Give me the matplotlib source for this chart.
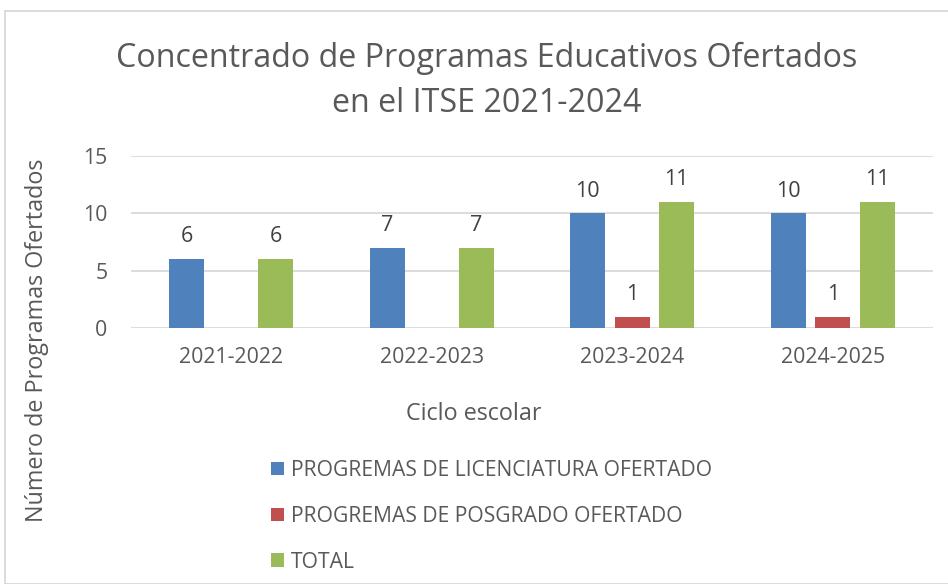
import numpy as np
import matplotlib
matplotlib.use("Agg")
import matplotlib.pyplot as plt
from matplotlib.patches import Rectangle, Patch

categories = ["2021-2022", "2022-2023", "2023-2024", "2024-2025"]
licenciatura = [6, 7, 10, 10]
posgrado = [np.nan, np.nan, 1, 1]
total = [6, 7, 11, 11]
series_names = ["PROGREMAS DE LICENCIATURA OFERTADO",
                "PROGREMAS DE POSGRADO OFERTADO",
                "TOTAL"]
colors = ["#4F81BD", "#C0504D", "#9BBB59"]
yticks = [0, 5, 10, 15]

plt.rcParams['font.family'] = ['Open Sans', 'DejaVu Sans']
txt = "#595959"

W, H = 948, 584
fig = plt.figure(figsize=(W/100, H/100), dpi=100)
fig.patches.append(Rectangle((5/W, 0), 1.2, 1 - 11/H, transform=fig.transFigure,
                             fill=False, edgecolor="#D9D9D9", linewidth=1.3))

ax = fig.add_axes([131/W, 1 - 328/H, (933-131)/W, (328-156)/H])
x = np.arange(len(categories))
bw = 0.175
off = 0.222
for i, (vals, c) in enumerate(zip([licenciatura, posgrado, total], colors)):
    xs = x + (i - 1) * off
    ax.bar(xs, vals, width=bw, color=c, zorder=3, label=series_names[i])
    for xi, v in zip(xs, vals):
        if not np.isnan(v):
            ax.annotate(f"{int(v)}", (xi, v), xytext=(0, 16), textcoords="offset points",
                        ha="center", va="center", fontsize=15.5, color="#404040")

ax.set_xlim(-0.5, len(categories) - 0.5)
ax.set_ylim(0, 15)
ax.set_yticks(yticks)
ax.set_xticks(x)
ax.set_xticklabels(categories)
ax.tick_params(axis="both", length=0, labelsize=15.3, labelcolor=txt)
ax.tick_params(axis="x", pad=14)
ax.tick_params(axis="y", pad=17)
ax.grid(axis="y", color="#D9D9D9", linewidth=1.3, zorder=0)
for s in ax.spines.values():
    s.set_visible(False)

fig.text(487/W, 1 - 81/H, "Concentrado de Programas Educativos Ofertados\nen el ITSE 2021-2024",
         ha="center", va="center", fontsize=23.2, color=txt, linespacing=1.47)
fig.text(474/W, 1 - 414/H, "Ciclo escolar", ha="center", va="center", fontsize=16.8, color=txt)
fig.text(37/W, 1 - 340/H, "Número de Programas Ofertados", ha="center", va="center",
         rotation=90, fontsize=16.8, color=txt)

handles = [Patch(facecolor=c) for c in colors]
fig.legend(handles, series_names, loc="upper left", bbox_to_anchor=(271/W, 1 - 460/H),
           frameon=False, fontsize=15.25, labelcolor=txt, handlelength=0.6, handleheight=0.6,
           handletextpad=0.35, labelspacing=1.17, borderaxespad=0, borderpad=0)

fig.savefig("out.png", dpi=100)
